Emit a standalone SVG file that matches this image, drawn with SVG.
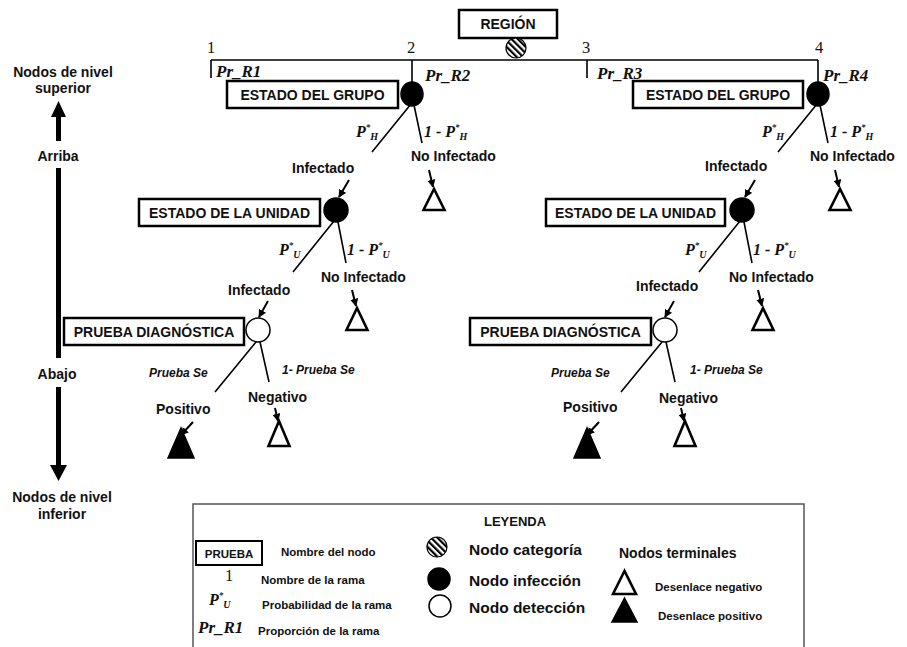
<svg xmlns="http://www.w3.org/2000/svg" width="907" height="647" viewBox="0 0 907 647">
  <defs>
    <pattern id="hatch" patternUnits="userSpaceOnUse" width="4.5" height="4.5" patternTransform="rotate(-45)">
      <rect width="4.5" height="4.5" fill="#fff"/>
      <rect x="0" y="0" width="2.2" height="4.5" fill="#000"/>
    </pattern>
    <marker id="arr" viewBox="0 0 10 10" refX="9" refY="5" markerWidth="4" markerHeight="4" orient="auto" markerUnits="strokeWidth">
      <path d="M0,0 L10,5 L0,10 z" fill="#000"/>
    </marker>
  </defs>
  <style>
    .lbl { font-family: "Liberation Sans", Arial, sans-serif; font-weight: bold; fill: #111; }
    .box { fill: #fff; stroke: #000; stroke-width: 2.5; }
    .boxt { font-family: "Liberation Sans", Arial, sans-serif; font-weight: bold; font-size: 14px; fill: #111; text-anchor: middle; }
    .edge { stroke: #000; stroke-width: 1.6; fill: none; }
    .arrow { stroke: #000; stroke-width: 2; fill: none; marker-end: url(#arr); }
    .inf { fill: #000; stroke: #000; stroke-width: 1.5; }
    .det { fill: #fff; stroke: #000; stroke-width: 1.5; }
    .cat { fill: url(#hatch); stroke: #000; stroke-width: 1.2; }
    .neg { fill: #fff; stroke: #000; stroke-width: 2.6; stroke-linejoin: miter; }
    .pos { fill: #000; stroke: #000; stroke-width: 1.5; }
    .math { font-family: "Liberation Serif", "Times New Roman", serif; font-weight: bold; font-style: italic; font-size: 16px; fill: #111; }
    .pr { font-family: "Liberation Serif", "Times New Roman", serif; font-weight: bold; font-style: italic; font-size: 17px; fill: #111; }
    .num { font-family: "Liberation Serif", "Times New Roman", serif; font-size: 16.5px; fill: #111; }
    .it { font-family: "Liberation Sans", Arial, sans-serif; font-weight: bold; font-style: italic; font-size: 12px; fill: #111; }
    .side { font-family: "Liberation Sans", Arial, sans-serif; font-weight: bold; font-size: 14px; fill: #111; text-anchor: middle; }
    .leg { font-family: "Liberation Sans", Arial, sans-serif; font-weight: bold; font-size: 11.5px; fill: #111; }
    .legbig { font-family: "Liberation Sans", Arial, sans-serif; font-weight: bold; font-size: 15.5px; fill: #111; }
    .sup { font-size: 9px; }
    .sub { font-size: 10px; }
  </style>
  <rect width="907" height="647" fill="#fff"/>

  <!-- level axis on the left -->
  <g id="axis">
    <text class="side" x="63" y="77">Nodos de nivel</text>
    <text class="side" x="63" y="93">superior</text>
    <polygon points="51,117 58.5,101 66,117" fill="#000"/>
    <rect x="56" y="116" width="5" height="25" fill="#000"/>
    <text class="side" x="58" y="161">Arriba</text>
    <rect x="56" y="168" width="5" height="190" fill="#000"/>
    <text class="side" x="57" y="379">Abajo</text>
    <rect x="56" y="387" width="5" height="79" fill="#000"/>
    <polygon points="50,465 58.5,481 67,465" fill="#000"/>
    <text class="side" x="62" y="502">Nodos de nivel</text>
    <text class="side" x="62" y="519">inferior</text>
  </g>

  <!-- connectors -->
  <g id="connectors">
    <path class="edge" d="M211,60 H818 M211,60 V78 M412,60 V83 M587,60 V78 M818,60 V83"/>
    <!-- left tree -->
    <path class="edge" d="M411,104 L372,152 M414,105 L422,143"/>
    <path class="edge" d="M334,221 L293,272 M338,222 L346,263"/>
    <path class="edge" d="M256,342 L215,392 M260,342 L269,382"/>
    <line class="arrow" x1="349" y1="180" x2="339" y2="197"/>
    <line class="arrow" x1="429" y1="170" x2="433" y2="187"/>
    <line class="arrow" x1="268" y1="301" x2="259" y2="317"/>
    <line class="arrow" x1="352" y1="290" x2="356" y2="306"/>
    <line class="arrow" x1="193" y1="422" x2="181" y2="435"/>
    <line class="arrow" x1="275" y1="408" x2="278" y2="421"/>
    <!-- right tree -->
    <path class="edge" d="M817,104 L778,152 M820,105 L828,143"/>
    <path class="edge" d="M740,221 L699,272 M744,222 L752,263"/>
    <path class="edge" d="M662,342 L621,392 M666,342 L675,382"/>
    <line class="arrow" x1="755" y1="180" x2="745" y2="197"/>
    <line class="arrow" x1="835" y1="170" x2="839" y2="187"/>
    <line class="arrow" x1="674" y1="301" x2="665" y2="317"/>
    <line class="arrow" x1="758" y1="290" x2="762" y2="306"/>
    <line class="arrow" x1="599" y1="422" x2="587" y2="435"/>
    <line class="arrow" x1="681" y1="408" x2="684" y2="421"/>
  </g>

  <!-- branch names and proportions -->
  <g id="branch-labels">
    <text class="num" x="207" y="53">1</text>
    <text class="num" x="407" y="53">2</text>
    <text class="num" x="582" y="53">3</text>
    <text class="num" x="815" y="53">4</text>
    <text class="pr" x="216" y="77">Pr_R1</text>
    <text class="pr" x="425" y="81">Pr_R2</text>
    <text class="pr" x="597" y="79">Pr_R3</text>
    <text class="pr" x="823" y="81">Pr_R4</text>
  </g>

  <!-- top category node -->
  <g id="region">
    <rect class="box" x="459" y="10" width="98" height="28"/>
    <text class="boxt" x="508" y="29" font-size="13">REGIÓN</text>
    <circle class="cat" cx="516" cy="48" r="10"/>
  </g>

  <!-- left tree -->
  <g id="group-left">
    <rect class="box" x="227" y="81" width="171" height="27"/>
    <text class="boxt" x="312.5" y="100">ESTADO DEL GRUPO</text>
    <ellipse class="inf" cx="412" cy="94" rx="11" ry="12"/>
    <text class="math" x="356" y="137">P<tspan class="sup" dy="-7">*</tspan><tspan class="sub" dy="10">H</tspan></text>
    <text class="math" x="424" y="137">1 - P<tspan class="sup" dy="-7">*</tspan><tspan class="sub" dy="10">H</tspan></text>
    <text class="lbl" x="411" y="161" font-size="14">No Infectado</text>
    <text class="lbl" x="292" y="173" font-size="14">Infectado</text>
  </g>
  <g id="group-left-neg">
    <polygon class="neg" points="434,189 423.5,210 444.5,210"/>
  </g>
  <g id="unit-left">
    <rect class="box" x="139" y="199" width="181" height="27"/>
    <text class="boxt" x="229.5" y="218">ESTADO DE LA UNIDAD</text>
    <circle class="inf" cx="336" cy="210" r="12"/>
    <text class="math" x="279" y="255">P<tspan class="sup" dy="-7">*</tspan><tspan class="sub" dy="10">U</tspan></text>
    <text class="math" x="347" y="255">1 - P<tspan class="sup" dy="-7">*</tspan><tspan class="sub" dy="10">U</tspan></text>
    <text class="lbl" x="321" y="282" font-size="14">No Infectado</text>
    <text class="lbl" x="228" y="295" font-size="14">Infectado</text>
  </g>
  <g id="unit-left-neg">
    <polygon class="neg" points="357,308 346.5,330 367.5,330"/>
  </g>
  <g id="test-left">
    <rect class="box" x="64" y="318" width="180" height="27"/>
    <text class="boxt" x="154" y="337">PRUEBA DIAGNÓSTICA</text>
    <circle class="det" cx="258" cy="330" r="12"/>
    <text class="it" x="149" y="377">Prueba Se</text>
    <text class="it" x="282" y="374">1- Prueba Se</text>
    <text class="lbl" x="248" y="402" font-size="14">Negativo</text>
    <text class="lbl" x="156" y="414" font-size="14">Positivo</text>
  </g>
  <g id="test-left-pos">
    <polygon class="pos" points="181,428 168,458 194,458"/>
  </g>
  <g id="test-left-neg">
    <polygon class="neg" points="279,421 268.5,446 289.5,446"/>
  </g>

  <!-- right tree -->
  <g id="group-right">
    <rect class="box" x="633" y="81" width="170" height="27"/>
    <text class="boxt" x="718" y="100">ESTADO DEL GRUPO</text>
    <ellipse class="inf" cx="818" cy="94" rx="11" ry="12"/>
    <text class="math" x="762" y="137">P<tspan class="sup" dy="-7">*</tspan><tspan class="sub" dy="10">H</tspan></text>
    <text class="math" x="830" y="137">1 - P<tspan class="sup" dy="-7">*</tspan><tspan class="sub" dy="10">H</tspan></text>
    <text class="lbl" x="810" y="161" font-size="14">No Infectado</text>
    <text class="lbl" x="705" y="171" font-size="14">Infectado</text>
  </g>
  <g id="group-right-neg">
    <polygon class="neg" points="840,189 829.5,210 850.5,210"/>
  </g>
  <g id="unit-right">
    <rect class="box" x="546" y="199" width="179" height="27"/>
    <text class="boxt" x="635.5" y="218">ESTADO DE LA UNIDAD</text>
    <circle class="inf" cx="742" cy="210" r="12"/>
    <text class="math" x="685" y="255">P<tspan class="sup" dy="-7">*</tspan><tspan class="sub" dy="10">U</tspan></text>
    <text class="math" x="753" y="255">1 - P<tspan class="sup" dy="-7">*</tspan><tspan class="sub" dy="10">U</tspan></text>
    <text class="lbl" x="729" y="282" font-size="14">No Infectado</text>
    <text class="lbl" x="636" y="291" font-size="14">Infectado</text>
  </g>
  <g id="unit-right-neg">
    <polygon class="neg" points="763,308 752.5,330 773.5,330"/>
  </g>
  <g id="test-right">
    <rect class="box" x="470" y="318" width="181" height="27"/>
    <text class="boxt" x="560.5" y="337">PRUEBA DIAGNÓSTICA</text>
    <circle class="det" cx="665" cy="330" r="12"/>
    <text class="it" x="551" y="377">Prueba Se</text>
    <text class="it" x="690" y="374">1- Prueba Se</text>
    <text class="lbl" x="659" y="403" font-size="14">Negativo</text>
    <text class="lbl" x="563" y="412" font-size="14">Positivo</text>
  </g>
  <g id="test-right-pos">
    <polygon class="pos" points="587,428 574,458 600,458"/>
  </g>
  <g id="test-right-neg">
    <polygon class="neg" points="685,421 674.5,446 695.5,446"/>
  </g>

  <!-- legend -->
  <g id="legend">
    <rect x="193" y="504" width="611" height="160" fill="none" stroke="#555" stroke-width="1.5"/>
    <text class="lbl" x="515" y="526" font-size="13" text-anchor="middle">LEYENDA</text>
    <rect x="196" y="541" width="66" height="24" fill="#fff" stroke="#000" stroke-width="2"/>
    <text class="lbl" x="229" y="558" font-size="11.5" text-anchor="middle">PRUEBA</text>
    <text class="leg" x="281" y="556" font-size="12">Nombre del nodo</text>
    <text class="num" x="229" y="581" text-anchor="middle">1</text>
    <text class="leg" x="261" y="584" font-size="12">Nombre de la rama</text>
    <text class="math" x="209" y="605">P<tspan class="sup" dy="-7">*</tspan><tspan class="sub" dy="10">U</tspan></text>
    <text class="leg" x="262" y="609">Probabilidad de la rama</text>
    <text class="pr" x="198" y="633" font-size="19">Pr_R1</text>
    <text class="leg" x="258" y="635">Proporción de la rama</text>
    <circle class="cat" cx="437" cy="547" r="10"/>
    <text class="legbig" x="469" y="555">Nodo categoría</text>
    <circle class="inf" cx="439" cy="579" r="11"/>
    <text class="legbig" x="469" y="586">Nodo infección</text>
    <circle class="det" cx="440" cy="606" r="11"/>
    <text class="legbig" x="469" y="613">Nodo detección</text>
    <text class="lbl" x="619" y="558" font-size="14">Nodos terminales</text>
    <polygon class="neg" points="624.5,571 613,594 636,594"/>
    <text class="leg" x="655" y="591" font-size="12.5">Desenlace negativo</text>
    <polygon class="pos" points="624.5,598 612,622 637,622"/>
    <text class="leg" x="658" y="620" font-size="12.5">Desenlace positivo</text>
  </g>
</svg>
